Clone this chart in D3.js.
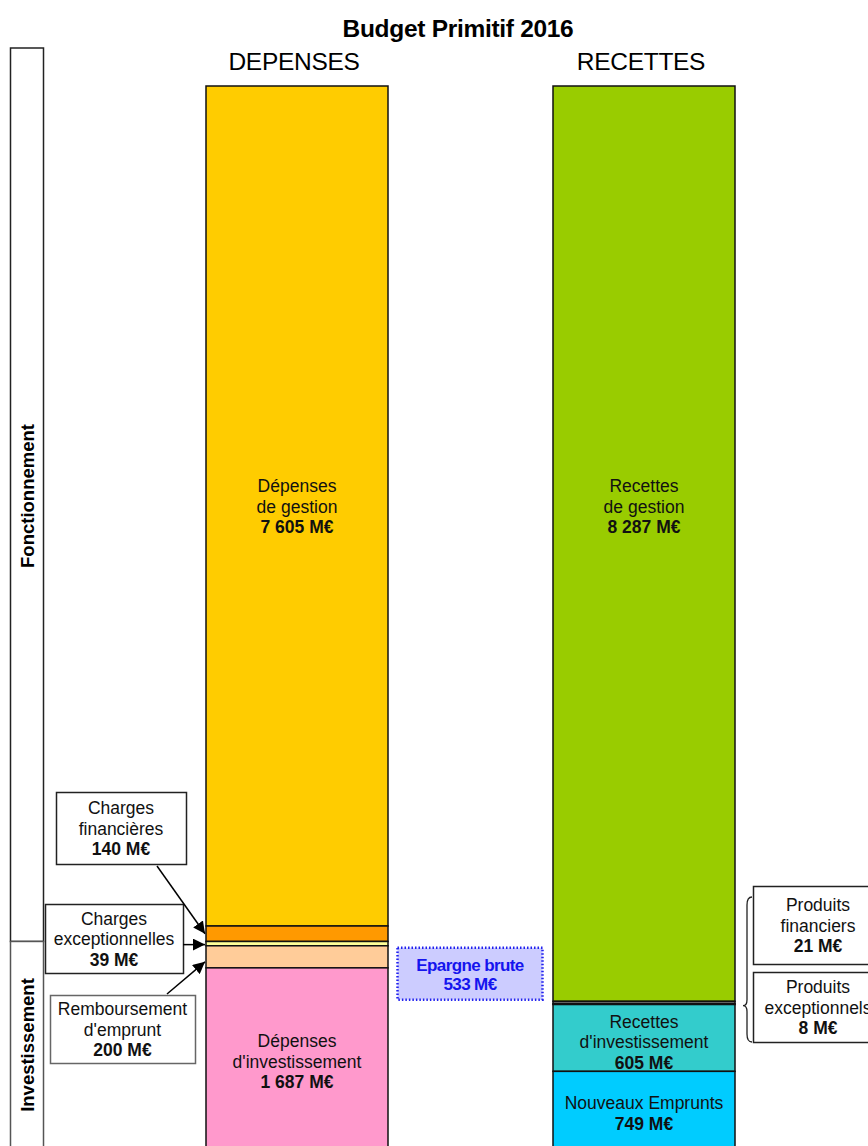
<!DOCTYPE html>
<html>
<head>
<meta charset="utf-8">
<script src="https://cdn.jsdelivr.net/npm/d3@7"></script>
<style>
  body { margin: 0; background: #fff; }
  svg { font-family: "Liberation Sans", Arial, sans-serif; }
</style>
</head>
<body>
<div id="chart"></div>
<script>
// data (M€)
const columns = ["DEPENSES", "RECETTES"];
const depLabels = ["Dépenses|de gestion", "Charges|financières", "Charges|exceptionnelles", "Remboursement|d'emprunt", "Dépenses|d'investissement"];
const depValues = [7605, 140, 39, 200, 1687];
const recLabels = ["Recettes|de gestion", "Produits|financiers", "Produits|exceptionnels", "Recettes|d'investissement", "Nouveaux Emprunts"];
const recValues = [8287, 21, 8, 605, 749];
const epargneLabel = "Epargne brute";
const epargneValue = 533;
const sections = ["Fonctionnement", "Investissement"];

const depColors = ["#FFCC00", "#FF9900", "#FFFF99", "#FFCC99", "#FF99CC"];
const recColors = ["#99CC00", "#808080", "#B0B0B0", "#33CCCC", "#00CCFF"];

const fmt = v => d3.format(",")(v).replace(/,/g, " ") + " M€";
const FS = 17.5;

function stack(values, labels, colors) {
    let acc = 0;
    return values.map((v, i) => {
        let d = {value: v, label: labels[i], color: colors[i], y0: acc, y1: acc + v};
        acc += v;
        return d;
    });
}

function main() {
    let w = 868, h = 1146;
    let svg = d3.select("#chart").append("svg")
        .attr("width", w)
        .attr("height", h);

    let x = d3.scaleBand()
        .domain(columns)
        .range([206, 735])
        .paddingInner(165 / 347)
        .paddingOuter(0);
    let y = d3.scaleLinear()
        .domain([0, 7605])
        .range([86, 926]);

    let dep = stack(depValues, depLabels, depColors);
    let rec = stack(recValues, recLabels, recColors);

    // title + column headers
    svg.append("text")
        .attr("x", 458).attr("y", 37)
        .attr("text-anchor", "middle")
        .attr("font-size", 24.5).attr("font-weight", "bold")
        .attr("letter-spacing", -0.3)
        .text("Budget Primitif 2016");
    svg.selectAll("text.col")
        .data(columns)
        .enter().append("text")
        .attr("class", "col")
        .attr("x", d => x(d) + x.bandwidth() / 2 - 3)
        .attr("y", 70)
        .attr("text-anchor", "middle")
        .attr("font-size", 24.5)
        .attr("letter-spacing", -0.3)
        .text(d => d);

    // arrow marker
    svg.append("defs").append("marker")
        .attr("id", "arrow")
        .attr("viewBox", "0 0 10 10")
        .attr("refX", 10).attr("refY", 5)
        .attr("markerWidth", 8).attr("markerHeight", 8)
        .attr("orient", "auto-start-reverse")
        .append("path")
        .attr("d", "M0,0 L10,5 L0,10 z")
        .attr("fill", "#000");

    // section boxes on the left
    let fonctEnd = y(depValues[0] + depValues[1]);
    let secs = [
        {name: sections[0], top: 48, bottom: fonctEnd, stroke: "#222"},
        {name: sections[1], top: fonctEnd, bottom: y(d3.sum(depValues)), stroke: "#555"}
    ];
    let sec = svg.selectAll("g.sec").data(secs).enter().append("g").attr("class", "sec");
    sec.append("rect")
        .attr("x", 10.5).attr("width", 33)
        .attr("y", d => d.top).attr("height", d => d.bottom - d.top)
        .attr("fill", "#fff").attr("stroke", d => d.stroke).attr("stroke-width", 1.5);
    sec.append("text")
        .attr("transform", (d, i) => `translate(34, ${i == 0 ? 496 : 1045}) rotate(-90)`)
        .attr("text-anchor", "middle")
        .attr("font-size", 18.5).attr("font-weight", "bold")
        .text(d => d.name);

    // bars
    let drawBar = function(data, col) {
        let g = svg.append("g").attr("class", "bar");
        g.selectAll("rect")
            .data(data)
            .enter().append("rect")
            .attr("x", x(col))
            .attr("width", x.bandwidth())
            .attr("y", d => y(d.y0))
            .attr("height", d => y(d.y1) - y(d.y0))
            .attr("fill", d => d.color)
            .attr("stroke", "#111")
            .attr("stroke-width", 1.5);
        return g;
    };
    let depBar = drawBar(dep, "DEPENSES");
    let recBar = drawBar(rec, "RECETTES");

    // labels inside the bars
    let inside = function(g, d, col, cy) {
        let lines = d.label.split("|").concat([fmt(d.value)]);
        let t = g.append("text")
            .attr("text-anchor", "middle")
            .attr("font-size", FS)
            .attr("fill", "#111");
        let top = cy - (lines.length - 1) * 10.3;
        lines.forEach((l, i) => {
            t.append("tspan")
                .attr("x", x(col) + x.bandwidth() / 2)
                .attr("y", top + i * 20.6 + 6.5)
                .attr("font-weight", i == lines.length - 1 ? "bold" : "normal")
                .text(l);
        });
    };
    let gestionY = (y(dep[0].y0) + y(dep[0].y1)) / 2;
    inside(depBar, dep[0], "DEPENSES", gestionY);
    inside(depBar, dep[4], "DEPENSES", (y(dep[4].y0) + y(dep[4].y1)) / 2);
    inside(recBar, rec[0], "RECETTES", gestionY);
    inside(recBar, rec[3], "RECETTES", (y(rec[3].y0) + y(rec[3].y1)) / 2 + 4);
    inside(recBar, rec[4], "RECETTES", (y(rec[4].y0) + y(rec[4].y1)) / 2);

    // callout boxes
    let callout = function(d, box, stroke) {
        let g = svg.append("g");
        g.append("rect")
            .attr("x", box[0] + 0.5).attr("y", box[1] + 0.5)
            .attr("width", box[2]).attr("height", box[3])
            .attr("fill", "#fff").attr("stroke", stroke).attr("stroke-width", 1.5);
        let lines = d.label.split("|").concat([fmt(d.value)]);
        let t = g.append("text").attr("text-anchor", "middle").attr("font-size", FS).attr("fill", "#111");
        let cy = box[1] + box[3] / 2;
        lines.forEach((l, i) => {
            t.append("tspan")
                .attr("x", box[0] + box[2] / 2)
                .attr("y", cy + (i - 1) * 20.5 + 6.5)
                .attr("font-weight", i == lines.length - 1 ? "bold" : "normal")
                .text(l);
        });
    };
    callout(dep[1], [56, 792, 130, 72], "#222");
    callout(dep[2], [45, 904, 138, 69], "#222");
    callout(dep[3], [50, 995, 145, 68], "#666");
    callout(rec[1], [753, 886, 130, 78], "#222");
    callout(rec[2], [753, 972, 130, 70], "#222");

    // arrows to the small depenses segments
    let mid = d => (y(d.y0) + y(d.y1)) / 2;
    let arrows = [
        {from: [157, 866], to: [x("DEPENSES") - 1, mid(dep[1])]},
        {from: [183, mid(dep[2]) + 1], to: [x("DEPENSES") - 1, mid(dep[2]) + 1]},
        {from: [167, 994], to: [x("DEPENSES") - 1, mid(dep[3]) + 5]}
    ];
    svg.selectAll("line.arrow")
        .data(arrows)
        .enter().append("line")
        .attr("class", "arrow")
        .attr("x1", d => d.from[0]).attr("y1", d => d.from[1])
        .attr("x2", d => d.to[0]).attr("y2", d => d.to[1])
        .attr("stroke", "#000").attr("stroke-width", 1.5)
        .attr("marker-end", "url(#arrow)");

    // brace for produits financiers / exceptionnels
    let bx = 752, btop = 897, bbot = 1042, btip = y(rec[1].y1) + 2;
    svg.append("path")
        .attr("d", `M${bx},${btop} Q${bx - 5},${btop} ${bx - 5},${btop + 8} L${bx - 5},${btip - 6}
                    Q${bx - 5},${btip} ${bx - 9},${btip} Q${bx - 5},${btip} ${bx - 5},${btip + 6}
                    L${bx - 5},${bbot - 8} Q${bx - 5},${bbot} ${bx},${bbot}`)
        .attr("fill", "none").attr("stroke", "#222").attr("stroke-width", 1.3);

    // epargne brute, between fonctionnement recettes and depenses
    let fonctDep = d3.sum(depValues.slice(0, 3));
    let ey0 = y(fonctDep) + 2, ey1 = ey0 + y(epargneValue) - y(0) - 7;
    let eg = svg.append("g");
    eg.append("rect")
        .attr("x", 397.5).attr("y", ey0)
        .attr("width", 145).attr("height", ey1 - ey0)
        .attr("fill", "#CCCCFF")
        .attr("stroke", "#2222EE").attr("stroke-width", 2.5)
        .attr("stroke-dasharray", "1.5,2");
    let et = eg.append("text").attr("text-anchor", "middle").attr("font-size", 17)
        .attr("font-weight", "bold").attr("fill", "#1515EE");
    et.append("tspan").attr("x", 470).attr("y", (ey0 + ey1) / 2 - 3).attr("letter-spacing", -0.6).text(epargneLabel);
    et.append("tspan").attr("x", 470).attr("y", (ey0 + ey1) / 2 + 16).attr("letter-spacing", -0.6).text(fmt(epargneValue));
}

main();
</script>
</body>
</html>
